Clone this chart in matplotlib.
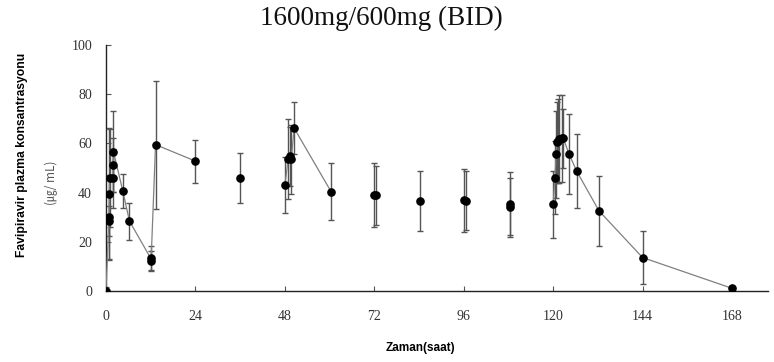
import matplotlib
matplotlib.use("Agg")
import matplotlib.pyplot as plt

# day 1 (loading dose), connected
t_day1 = [0, 0.75, 0.8, 0.9, 1.0, 1.8, 1.9, 2.0, 4.5, 6.3, 12.0, 12.1, 13.3, 24]
c_day1 = [0, 28.5, 30.0, 39.4, 45.9, 45.9, 51.3, 56.7, 40.7, 28.4, 13.3, 12.3, 59.5, 52.8]
sd_day1 = [1.5, 6, 17, 27, 20, 12, 11, 16.3, 6.8, 7.5, 4.8, 4, 26, 8.7]

# day 3, connected
t_day3 = [48, 48.9, 49.3, 49.7, 50.5, 60.4]
c_day3 = [43.1, 53.5, 54.8, 53.5, 66.2, 40.4]
sd_day3 = [11.5, 16.3, 12, 14, 10.5, 11.5]

# trough samples, not connected
t_trough = [36, 72, 72.5, 84.3, 96, 96.5, 108.4, 108.4]
c_trough = [45.9, 39.2, 39.0, 36.6, 36.8, 36.6, 35.5, 34.0]
sd_trough = [10, 13, 12, 12.2, 12.9, 12, 12.9, 12]

# last dose, connected
t_last = [120, 120.5, 120.8, 121, 121.2, 121.7, 122.3, 122.7, 124.3, 126.3, 132.3, 144, 168]
c_last = [35.3, 46.1, 55.6, 60.4, 61.0, 61.7, 62.1, 62.1, 55.6, 48.8, 32.6, 13.6, 1.1]
sd_last = [13.6, 15, 17.6, 16.6, 17, 18, 17.7, 12, 16.3, 15, 14.3, 10.7, 0.5]

xticks = [0, 24, 48, 72, 96, 120, 144, 168]
yticks = [0, 20, 40, 60, 80, 100]

fig = plt.figure(figsize=(7.74, 3.62), dpi=100)
ax = fig.add_axes([106 / 774, 1 - 291 / 362, (768 - 106) / 774, (291 - 45) / 362])

groups = [(t_day1, c_day1, sd_day1, True), (t_day3, c_day3, sd_day3, True),
          (t_trough, c_trough, sd_trough, False), (t_last, c_last, sd_last, True)]
for t, c, sd, joined in groups:
    ax.errorbar(t, c, yerr=sd, fmt='none', ecolor='#555555', elinewidth=1.0,
                capsize=2.5, capthick=1.0, zorder=2)
    if joined:
        ax.plot(t, c, color='#808080', lw=0.9, zorder=3)
    ax.plot(t, c, 'o', color='black', ms=5.2, zorder=4, ls='none')

ax.set_xlim(0, (768 - 106) / 3.726)
ax.set_ylim(0, 100)
ax.set_xticks(xticks)
ax.set_yticks(yticks)
ax.spines['top'].set_visible(False)
ax.spines['right'].set_visible(False)
for s in ['left', 'bottom']:
    ax.spines[s].set_color('#222222')
    ax.spines[s].set_linewidth(1.0)
ax.tick_params(direction='in', length=3.5, color='#555555', labelcolor='#333333')
ax.tick_params(axis='x', pad=14)
ax.tick_params(axis='y', pad=10)
for lab in ax.get_xticklabels() + ax.get_yticklabels():
    lab.set_family('Liberation Serif')
    lab.set_fontsize(10)

fig.text(0.493, 0.95, '1600mg/600mg (BID)', family='Liberation Serif', fontsize=19.5,
         ha='center', va='center', color='#111111')
fig.text(420 / 774, 1 - 348 / 362, 'Zaman(saat)', family='Liberation Sans',
         fontweight='bold', fontsize=8.5, ha='center', va='center')
fig.text(22 / 774, 1 - 155 / 362, 'Favipiravir plazma konsantrasyonu', family='Liberation Sans',
         fontweight='bold', fontsize=8.7, rotation=90, ha='center', va='center')
fig.text(52 / 774, 1 - 183 / 362, '(㎍/ mL)', family=['Noto Sans CJK KR', 'DejaVu Sans'],
         fontsize=8.5, rotation=90, ha='center', va='center', color='#555555')

fig.savefig('out.png', dpi=100)
